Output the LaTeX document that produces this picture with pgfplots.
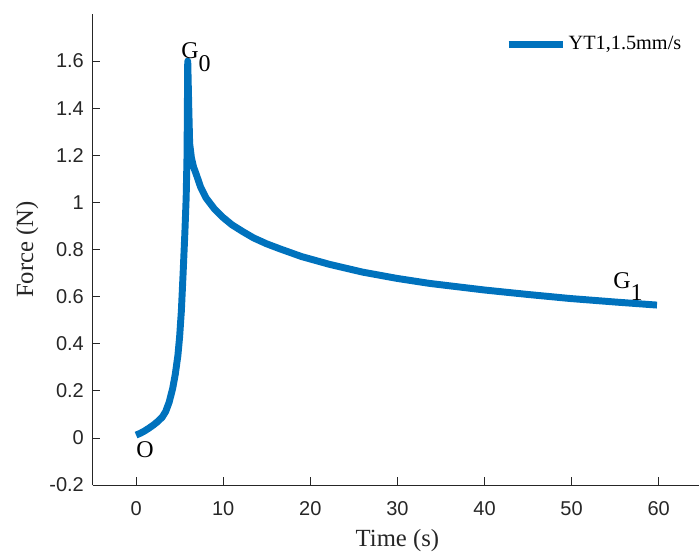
\documentclass[border=0pt]{standalone}
\usepackage{fontspec}
\setmainfont{Liberation Serif}
\newfontfamily\arial{Liberation Sans}
\usepackage{pgfplots}
\pgfplotsset{compat=1.18}
\definecolor{mblue}{RGB}{0,114,189}
\definecolor{axgray}{RGB}{38,38,38}
\begin{document}
\begin{tikzpicture}
\begin{axis}[
  name=ax,
  scale only axis,
  width=457.3pt, height=353.25pt,
  xmin=-5, xmax=65, ymin=-0.2, ymax=1.8,
  axis lines*=left,
  axis line style={axgray, line width=0.6pt, -},
  xtick={0,10,20,30,40,50,60},
  ytick={-0.2,0,0.2,0.4,0.6,0.8,1,1.2,1.4,1.6},
  yticklabels={-0.2,0,0.2,0.4,0.6,0.8,1,1.2,1.4,1.6},
  tick align=inside,
  major tick length=5.8pt,
  tick style={axgray, line width=0.6pt},
  /pgf/number format/assume math mode=true,
  tick label style={font=\arial\fontsize{15}{18}\selectfont, text=axgray},
  xticklabel style={yshift=-9pt},
  yticklabel style={xshift=-3pt},
  xlabel={Time (s)},
  ylabel={Force (N)},
  label style={font=\fontsize{18.5}{22}\selectfont, text=axgray},
  xlabel style={at={(axis description cs:0.5,-0.1316)}, anchor=base},
  ylabel style={at={(axis description cs:-0.0975,0.5)}, anchor=base},
  legend style={at={(axis description cs:0.6766,0.936)}, anchor=west,
    draw=none, fill=none, inner sep=0pt, outer sep=0pt,
    font=\fontsize{15.2}{18}\selectfont, text=black,
    nodes={inner sep=1.5pt}},
  legend cell align=left,
  legend image code/.code={\draw[#1, line cap=butt] (0pt,0pt) -- (41pt,0pt);},
  clip=false,
]
\addplot[mblue, line width=5.2pt, line join=round, line cap=butt] coordinates {
(0,0.012) (0.5,0.02) (1.0,0.03) (1.5,0.042) (2.0,0.055) (2.5,0.07) (3.0,0.088)
(3.4,0.112) (3.8,0.152) (4.2,0.21) (4.5,0.27) (4.8,0.35) (5.0,0.43)
(5.2,0.54) (5.4,0.70) (5.6,0.87) (5.75,1.02) (5.85,1.2) (5.93,1.6)
(6.05,1.4) (6.15,1.25) (6.35,1.19) (6.6,1.15) (6.9,1.12) (7.4,1.066)
(8.05,1.018) (9.0,0.972) (9.95,0.937) (11,0.905) (12.25,0.876) (13.5,0.849)
(15,0.824) (16.5,0.803) (19,0.770) (22.2,0.737) (26,0.704) (30,0.677)
(33.7,0.656) (40,0.628) (45,0.609) (49.8,0.592) (55,0.577) (59.8,0.564)
};
\addlegendentry{YT1,1.5mm/s}
\node[anchor=base west, inner sep=0pt, font=\fontsize{18}{20}\selectfont] at (axis cs:5.17,1.611) {G\raisebox{-10pt}{0}};
\node[anchor=base west, inner sep=0pt, font=\fontsize{18}{20}\selectfont] at (axis cs:54.75,0.636) {G\raisebox{-9.5pt}{1}};
\node[anchor=base west, inner sep=0pt, font=\fontsize{18}{20}\selectfont] at (axis cs:0,-0.085) {O};
\end{axis}
\pgfresetboundingbox
\path[use as bounding box] ([shift={(-69.4pt,-54pt)}]ax.south west) rectangle ([shift={(454.85pt,363.75pt)}]ax.south west);
\end{tikzpicture}
\end{document}
